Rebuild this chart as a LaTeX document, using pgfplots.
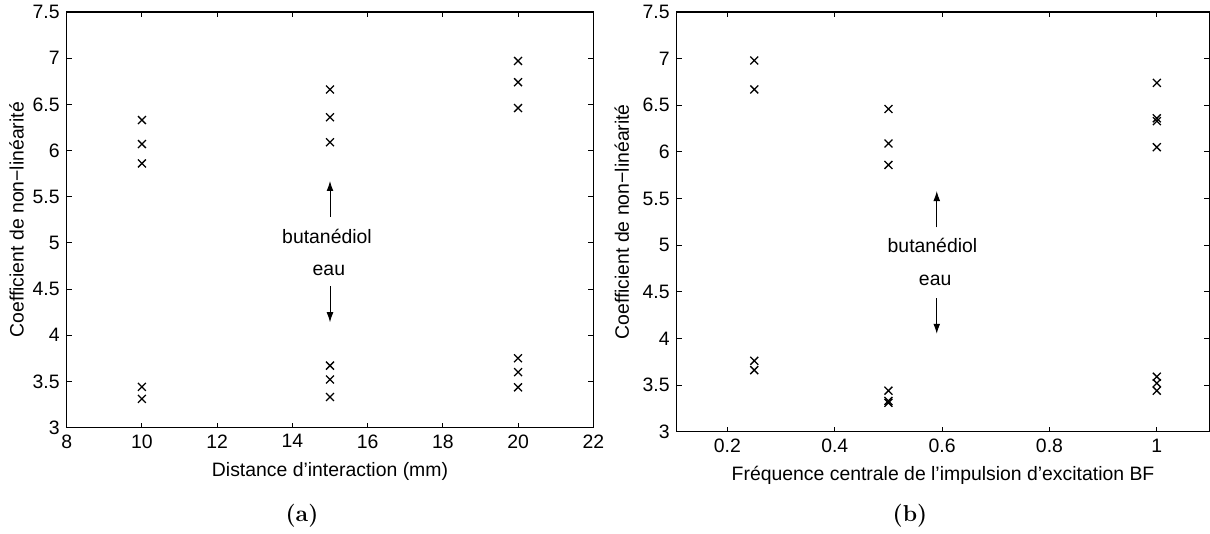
\documentclass[border=0pt]{standalone}
\usepackage{fontspec}
\newfontfamily\arial{Liberation Sans}
\usepackage{pgfplots}
\pgfplotsset{compat=1.18}
\usetikzlibrary{arrows.meta}
\newcommand\af{\arial\fontsize{9.7}{11.6}\selectfont}

\begin{document}
\begin{tikzpicture}
\path[use as bounding box] (0,0) rectangle (605pt,-267pt);
\pgfplotsset{
  every axis/.append style={
    scale only axis,
    axis line style={line width=0.6pt},
    tick align=inside,
    major tick length=2.5pt,
    every tick/.style={black, line width=0.5pt},
    tick label style={font=\af},
    label style={font=\af},
    /pgf/number format/assume math mode=true,
    clip=false,
  },
  crosses/.style={only marks, mark=x, mark size=2.8pt, black, mark options={line width=0.65pt}},
}

% (a)
\begin{axis}[
  at={(33.35pt,-213.75pt)}, anchor=south west,
  width=263.3pt, height=207.75pt,
  xmin=8, xmax=22, ymin=3, ymax=7.5,
  xtick={8,10,12,14,16,18,20,22},
  ytick={3,3.5,4,4.5,5,5.5,6,6.5,7,7.5},
  yticklabels={3,3.5,4,4.5,5,5.5,6,6.5,7,7.5},
  xticklabels={8,10,12,14,16,18,20,22},
  xlabel={Distance d’interaction (mm)},
  ylabel={Coefficient de non−linéarité},
  ylabel style={yshift=-2.5pt},
]
\addplot[crosses] coordinates {
  (10,6.33) (10,6.07) (10,5.86) (10,3.44) (10,3.31)
  (15,6.66) (15,6.36) (15,6.09) (15,3.67) (15,3.52) (15,3.33)
  (20,6.97) (20,6.74) (20,6.46) (20,3.75) (20,3.60) (20,3.435)
};
\draw[line width=0.45pt, -{Latex[length=5pt,width=3.4pt]}] (axis cs:15,5.28) -- (axis cs:15,5.67);
\draw[line width=0.45pt, -{Latex[length=5pt,width=3.4pt]}] (axis cs:15,4.53) -- (axis cs:15,4.14);
\node[font=\af] at (axis cs:14.92,5.07) {butanédiol};
\node[font=\af] at (axis cs:14.97,4.70) {eau};
\end{axis}

% (b)
\begin{axis}[
  at={(338.35pt,-215.85pt)}, anchor=south west,
  width=266.35pt, height=209.85pt,
  xmin=0.1055, xmax=1.098, ymin=3, ymax=7.5,
  xtick={0.2,0.4,0.6,0.8,1},
  xticklabels={0.2,0.4,0.6,0.8,1},
  ytick={3,3.5,4,4.5,5,5.5,6,6.5,7,7.5},
  yticklabels={3,3.5,4,4.5,5,5.5,6,6.5,7,7.5},
  xlabel={Fréquence centrale de l’impulsion d’excitation BF},
  ylabel={Coefficient de non−linéarité},
]
\addplot[crosses] coordinates {
  (0.25,6.98) (0.25,6.67) (0.25,3.76) (0.25,3.66)
  (0.5,6.46) (0.5,6.09) (0.5,5.86) (0.5,3.44) (0.5,3.33) (0.5,3.31)
  (1,6.74) (1,6.36) (1,6.33) (1,6.05) (1,3.59) (1,3.52) (1,3.44)
};
\draw[line width=0.45pt, -{Latex[length=5pt,width=3.4pt]}] (axis cs:0.59,5.19) -- (axis cs:0.59,5.58);
\draw[line width=0.45pt, -{Latex[length=5pt,width=3.4pt]}] (axis cs:0.59,4.43) -- (axis cs:0.59,4.05);
\node[font=\af] at (axis cs:0.582,5.00) {butanédiol};
\node[font=\af] at (axis cs:0.587,4.62) {eau};
\end{axis}

\node[font=\bfseries\fontsize{11.5}{13}\selectfont] at (151pt,-258pt) {(a)};
\node[font=\bfseries\fontsize{11.5}{13}\selectfont] at (455pt,-258pt) {(b)};
\end{tikzpicture}
\end{document}
